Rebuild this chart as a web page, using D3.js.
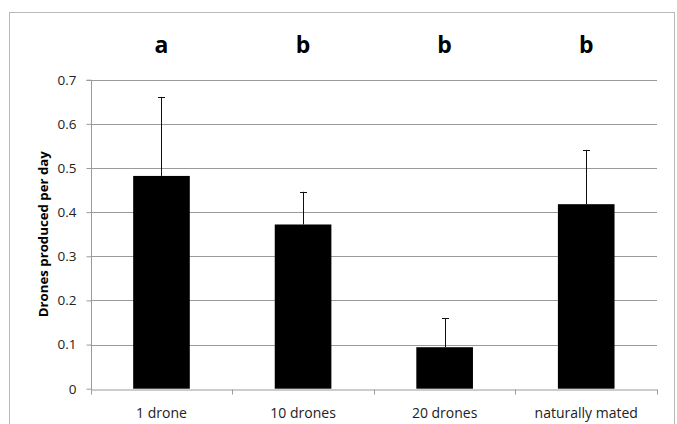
<!DOCTYPE html>
<html>
<head>
<meta charset="utf-8">
<script src="https://cdn.jsdelivr.net/npm/d3@7"></script>
<style>
  html, body { margin: 0; padding: 0; background: #fff; }
  svg { display: block; }
</style>
</head>
<body>
<svg id="chart" width="677" height="424"></svg>
<script>
const categories = ["1 drone", "10 drones", "20 drones", "naturally mated"];
const values = [0.482, 0.372, 0.094, 0.418];
const errorsUp = [0.179, 0.074, 0.066, 0.123];
const groupLetters = ["a", "b", "b", "b"];
const yTicks = [0, 0.1, 0.2, 0.3, 0.4, 0.5, 0.6, 0.7];
const yTitle = "Drones produced per day";

const svg = d3.select("#chart");
const W = 677, H = 424;
const margin = { left: 90.7, right: 20, top: 79.7, bottom: 35.3 };
const font = "'Open Sans', sans-serif";
const letterFont = "'Open Sans', sans-serif";

// outer frame
svg.append("rect")
  .attr("x", 9.5).attr("y", 12.5)
  .attr("width", 665).attr("height", 430)
  .attr("fill", "none").attr("stroke", "#b8b8b8").attr("stroke-width", 1);

const x = d3.scaleBand()
  .domain(categories)
  .range([margin.left, W - margin.right])
  .paddingInner(0.6).paddingOuter(0.3);

const y = d3.scaleLinear()
  .domain([0, 0.7])
  .range([H - margin.bottom, margin.top]);

// gridlines
svg.append("g")
  .selectAll("line")
  .data(yTicks.filter(d => d > 0))
  .join("line")
  .attr("x1", margin.left).attr("x2", W - margin.right)
  .attr("y1", d => Math.round(y(d)) + 0.5).attr("y2", d => Math.round(y(d)) + 0.5)
  .attr("stroke", "#9a9a9a").attr("stroke-width", 1);

// y axis
const yAxis = svg.append("g")
  .attr("transform", `translate(${Math.round(margin.left) + 0.5},0)`)
  .call(d3.axisLeft(y).tickValues(yTicks).tickSize(5).tickPadding(10)
    .tickFormat(d => d === 0 ? "0" : d3.format(".1f")(d)));
yAxis.select(".domain").attr("stroke", "#9a9a9a").attr("d", `M-5,${Math.round(y(0.7))+0.5}H0V${Math.round(y(0))+0.5}`);
yAxis.selectAll(".tick line").attr("stroke", "#9a9a9a");
yAxis.selectAll(".tick text").attr("font-family", font).attr("font-size", 13.5).attr("fill", "#222");

// x axis
const xAxis = svg.append("g")
  .attr("transform", `translate(0,${Math.round(y(0)) + 0.5})`)
  .call(d3.axisBottom(x).tickSize(0).tickPadding(19));
xAxis.select(".domain").attr("stroke", "#9a9a9a");
xAxis.selectAll(".tick text").attr("font-family", font).attr("font-size", 14).attr("fill", "#222");
// boundary ticks between categories
const bounds = d3.range(categories.length + 1).map(i => margin.left + i * ((W - margin.right - margin.left) / categories.length));
xAxis.selectAll(".bound")
  .data(bounds)
  .join("line")
  .attr("class", "bound")
  .attr("x1", d => Math.round(d) + 0.5).attr("x2", d => Math.round(d) + 0.5)
  .attr("y1", 0).attr("y2", 5)
  .attr("stroke", "#9a9a9a");

// bars
svg.append("g")
  .selectAll("rect")
  .data(categories)
  .join("rect")
  .attr("x", d => x(d))
  .attr("y", (d, i) => y(values[i]))
  .attr("width", x.bandwidth())
  .attr("height", (d, i) => y(0) - y(values[i]))
  .attr("fill", "#000");

// error bars (upper only)
const eb = svg.append("g").attr("stroke", "#111").attr("stroke-width", 1);
categories.forEach((c, i) => {
  const cx = Math.round(x(c) + x.bandwidth() / 2) + 0.5;
  const top = y(values[i] + errorsUp[i]);
  eb.append("line").attr("x1", cx).attr("x2", cx).attr("y1", top).attr("y2", y(values[i]));
  eb.append("line").attr("x1", cx - 3.5).attr("x2", cx + 3.5).attr("y1", Math.round(top) + 0.5).attr("y2", Math.round(top) + 0.5);
});

// significance letters
svg.append("g")
  .selectAll("text")
  .data(categories)
  .join("text")
  .attr("x", d => x(d) + x.bandwidth() / 2)
  .attr("y", 53)
  .attr("text-anchor", "middle")
  .attr("font-family", letterFont)
  .attr("font-weight", "bold")
  .attr("font-size", 23)
  .attr("fill", "#000")
  .text((d, i) => groupLetters[i]);

// y title
const title = svg.append("text")
  .attr("transform", `translate(48,${(y(0) + y(0.7)) / 2}) rotate(-90)`)
  .attr("text-anchor", "middle")
  .attr("font-family", font)
  .attr("font-weight", "bold")
  .attr("font-size", 12)
  .attr("fill", "#000")
  .text(yTitle);
// fit the title to the reference's length
const len = title.node().getComputedTextLength();
title.attr("font-size", 12 * 166 / len);
</script>
</body>
</html>
